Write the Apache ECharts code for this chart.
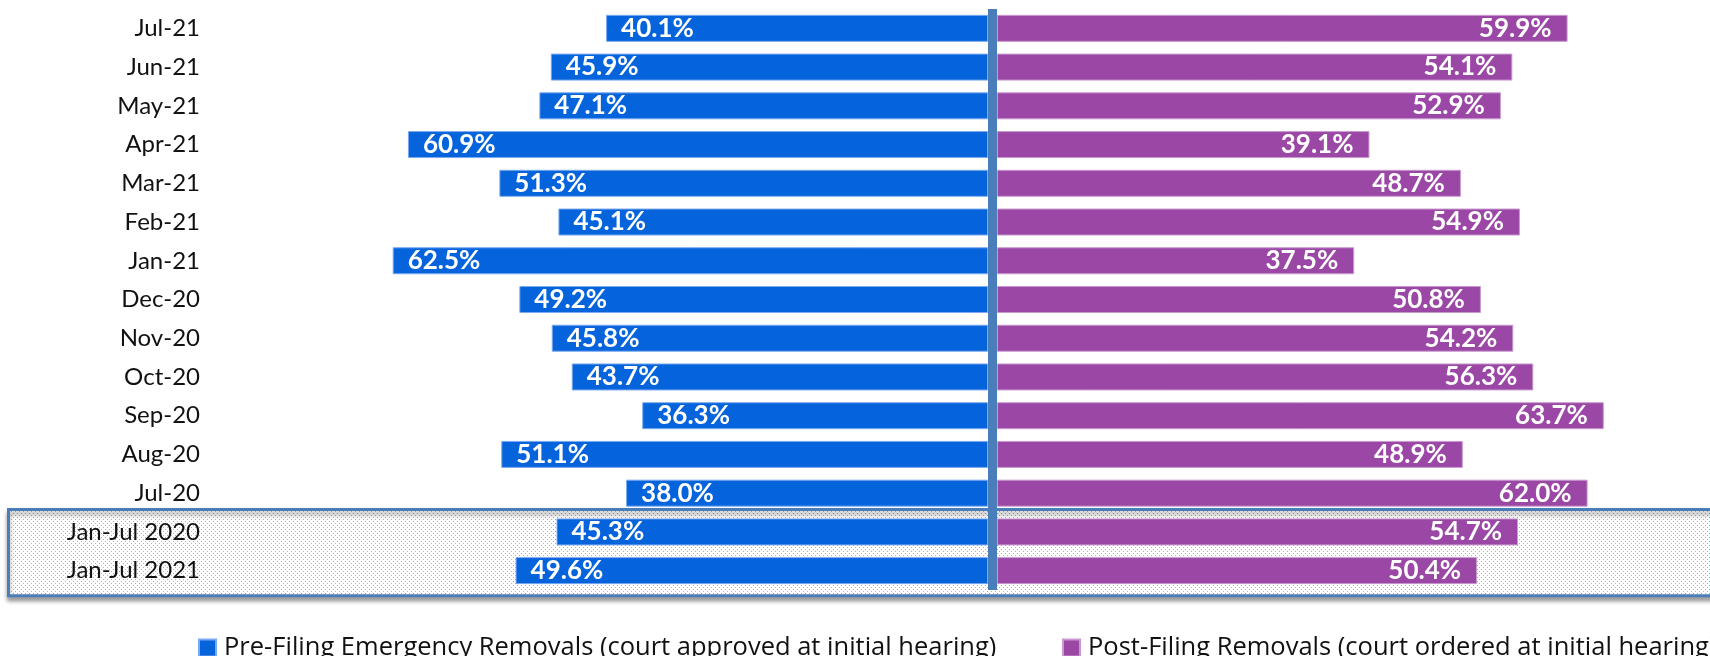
<!DOCTYPE html>
<html>
<head>
<meta charset="utf-8">
<title>Removals</title>
<script src="https://cdn.jsdelivr.net/npm/echarts@6/dist/echarts.min.js"></script>
<style>
    html, body { margin: 0; padding: 0; background: #fff; }
    #main { width: 1710px; height: 656px; }
</style>
</head>
<body>
<div id="main"></div>
<script>
var months = ['Jul-21', 'Jun-21', 'May-21', 'Apr-21', 'Mar-21', 'Feb-21', 'Jan-21', 'Dec-20',
    'Nov-20', 'Oct-20', 'Sep-20', 'Aug-20', 'Jul-20', 'Jan-Jul 2020', 'Jan-Jul 2021'];
var preFiling = [40.1, 45.9, 47.1, 60.9, 51.3, 45.1, 62.5, 49.2, 45.8, 43.7, 36.3, 51.1, 38.0, 45.3, 49.6];
var postFiling = [59.9, 54.1, 52.9, 39.1, 48.7, 54.9, 37.5, 50.8, 54.2, 56.3, 63.7, 48.9, 62.0, 54.7, 50.4];
var seriesNames = ['Pre-Filing Emergency Removals (court approved at initial hearing)',
    'Post-Filing Removals (court ordered at initial hearing)'];

var font = 'Lato, "Open Sans", sans-serif';

// dotted fill for the summary box
var dots = document.createElement('canvas');
dots.width = 4;
dots.height = 4;
var dctx = dots.getContext('2d');
dctx.fillStyle = '#ffffff';
dctx.fillRect(0, 0, 4, 4);
dctx.fillStyle = '#4fd8d8';
dctx.fillRect(1, 1, 1, 1);
dctx.fillRect(3, 3, 1, 1);

function pct(p) {
    return p.value.toFixed(1) + '%';
}

// one legend per series so the second one does not wrap
function legendAt(name, left) {
    return {
        data: [name],
        left: left,
        top: 630,
        icon: 'rect',
        itemWidth: 17,
        itemHeight: 17,
        textStyle: {
            fontFamily: '"Open Sans", sans-serif',
            fontSize: 25.5,
            color: '#111',
            padding: [0, 0, 0, 3]
        }
    };
}

var myChart = echarts.init(document.getElementById('main'));

var option = {
    animation: false,
    backgroundColor: '#fff',
    textStyle: { fontFamily: font },
    legend: [legendAt(seriesNames[0], 193), legendAt(seriesNames[1], 1057)],
    grid: [
        { left: 226, top: 9, width: 762, height: 581 },
        { left: 997, top: 9, width: 713, height: 581 }
    ],
    xAxis: [
        { gridIndex: 0, type: 'value', min: 0, max: 80, inverse: true, show: false },
        { gridIndex: 1, type: 'value', min: 0, max: 74.85, show: false }
    ],
    yAxis: [
        {
            gridIndex: 0,
            type: 'category',
            data: months,
            inverse: true,
            axisLine: { show: false },
            axisTick: { show: false },
            axisLabel: {
                margin: 26,
                fontFamily: font,
                fontSize: 24,
                color: '#111'
            }
        },
        {
            gridIndex: 1,
            type: 'category',
            data: months,
            inverse: true,
            axisLine: { show: false },
            axisTick: { show: false },
            axisLabel: { show: false }
        }
    ],
    series: [
        {
            name: seriesNames[0],
            type: 'bar',
            xAxisIndex: 0,
            yAxisIndex: 0,
            data: preFiling,
            barWidth: 27,
            itemStyle: { color: '#0563dc', borderColor: '#7aaaf0', borderWidth: 1 },
            label: {
                show: true,
                position: 'insideLeft',
                distance: 15,
                formatter: pct,
                color: '#fff',
                fontFamily: font,
                fontWeight: 'bold',
                fontSize: 26
            }
        },
        {
            name: seriesNames[1],
            type: 'bar',
            xAxisIndex: 1,
            yAxisIndex: 1,
            data: postFiling,
            barWidth: 27,
            itemStyle: { color: '#9b47a5', borderColor: '#c99ad0', borderWidth: 1 },
            label: {
                show: true,
                position: 'insideRight',
                distance: 16,
                formatter: pct,
                color: '#fff',
                fontFamily: font,
                fontWeight: 'bold',
                fontSize: 26
            }
        }
    ]
};
myChart.setOption(option);

// summary box behind the two Jan-Jul rows, and the divider between the halves
var y1 = myChart.convertToPixel({ gridIndex: 0 }, [0, months[13]])[1];
var y2 = myChart.convertToPixel({ gridIndex: 0 }, [0, months[14]])[1];
var yTop = myChart.convertToPixel({ gridIndex: 0 }, [0, months[0]])[1];
var step = y2 - y1;
var xLeft = myChart.convertToPixel({ gridIndex: 0 }, [0, months[0]])[0];
var xRight = myChart.convertToPixel({ gridIndex: 1 }, [0, months[0]])[0];
myChart.setOption({
    graphic: [
        {
            type: 'rect',
            z: -10,
            shape: { x: 8.5, y: y1 - step * 0.58, width: 1730, height: step * 2.23 },
            style: {
                fill: { image: dots, repeat: 'repeat' },
                stroke: '#4a7ebb',
                lineWidth: 3,
                shadowBlur: 4,
                shadowOffsetY: 4,
                shadowColor: 'rgba(0,0,0,0.35)'
            }
        },
        {
            type: 'rect',
            z: 100,
            shape: { x: xLeft, y: yTop - step / 2, width: xRight - xLeft, height: y2 - yTop + step },
            style: { fill: '#4a7ebb' }
        }
    ]
});
</script>
</body>
</html>
